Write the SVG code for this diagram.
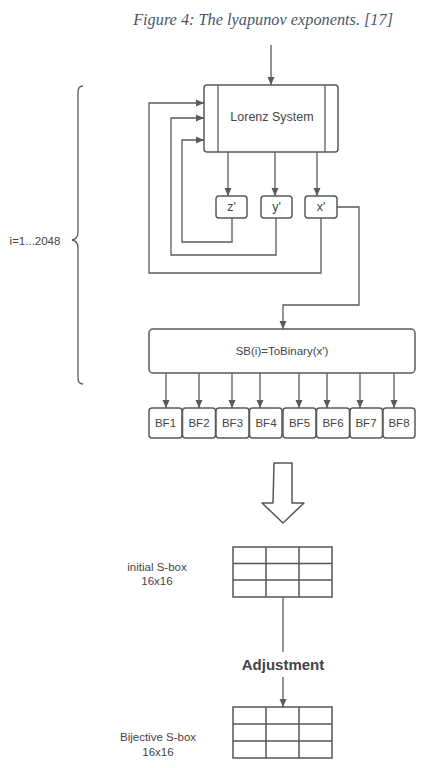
<svg xmlns="http://www.w3.org/2000/svg" width="423" height="768" viewBox="0 0 423 768">
<defs>
<marker id="ah" markerWidth="8" markerHeight="8" viewBox="0 0 8 8" refX="8" refY="4" orient="auto" markerUnits="userSpaceOnUse">
<path d="M0,0.5 L8,4 L0,7.5 Z" fill="#5a5a5a"/>
</marker>
<style>
.ln{fill:none;stroke:#5a5a5a;stroke-width:1.3}
.bx{fill:#fff;stroke:#5a5a5a;stroke-width:1.5}
.t{font-family:"Liberation Sans",Arial,sans-serif;font-size:11.5px;fill:#444;text-anchor:middle}
.g{fill:none;stroke:#555;stroke-width:1.5}
</style>
</defs>
<rect width="423" height="768" fill="#fff"/>
<text x="393" y="25" font-family="Liberation Serif,'Times New Roman',serif" font-style="italic" font-size="16.3" fill="#4a5868" text-anchor="end">Figure 4: The lyapunov exponents. [17]</text>

<g id="connectors">
<line class="ln" x1="271" y1="45" x2="271" y2="85" marker-end="url(#ah)"/>
<line class="ln" x1="228" y1="152" x2="228" y2="196" marker-end="url(#ah)"/>
<line class="ln" x1="275" y1="152" x2="275" y2="196" marker-end="url(#ah)"/>
<line class="ln" x1="317" y1="152" x2="317" y2="196" marker-end="url(#ah)"/>
<polyline class="ln" points="232,218 232,242 182,242 182,140 204,140" marker-end="url(#ah)"/>
<polyline class="ln" points="276,218 276,255 171,255 171,118 204,118" marker-end="url(#ah)"/>
<polyline class="ln" points="321,218 321,273 149,273 149,103 204,103" marker-end="url(#ah)"/>
<polyline class="ln" points="337,207 359,207 359,305 283,305 283,329" marker-end="url(#ah)"/>
<line class="ln" x1="166" y1="373" x2="166" y2="408" marker-end="url(#ah)"/>
<line class="ln" x1="199" y1="373" x2="199" y2="408" marker-end="url(#ah)"/>
<line class="ln" x1="232" y1="373" x2="232" y2="408" marker-end="url(#ah)"/>
<line class="ln" x1="260" y1="373" x2="260" y2="408" marker-end="url(#ah)"/>
<line class="ln" x1="299" y1="373" x2="299" y2="408" marker-end="url(#ah)"/>
<line class="ln" x1="327" y1="373" x2="327" y2="408" marker-end="url(#ah)"/>
<line class="ln" x1="360" y1="373" x2="360" y2="408" marker-end="url(#ah)"/>
<line class="ln" x1="394" y1="373" x2="394" y2="408" marker-end="url(#ah)"/>
<line class="ln" x1="283" y1="597" x2="283" y2="652"/>
<line class="ln" x1="283" y1="677" x2="283" y2="707" marker-end="url(#ah)"/>
</g>

<g id="brace">
<path class="ln" d="M83,86 Q78,86 78,92 L78,232 Q78,239 72,240 Q78,241 78,248 L78,378 Q78,384 83,384"/>
<text class="t" x="35" y="245">i=1...2048</text>
</g>

<g id="lorenz">
<rect class="bx" x="204" y="85" width="134" height="67" rx="3"/>
<line class="ln" x1="218" y1="85" x2="218" y2="152"/>
<line class="ln" x1="325" y1="85" x2="325" y2="152"/>
<text class="t" x="272" y="121" style="font-size:12.5px">Lorenz System</text>
</g>
<g id="zp"><rect class="bx" x="216" y="196" width="31" height="22" rx="3"/><text class="t" x="231.5" y="211" style="font-size:12.5px">z'</text></g>
<g id="yp"><rect class="bx" x="261" y="196" width="31" height="22" rx="3"/><text class="t" x="276.5" y="211" style="font-size:12.5px">y'</text></g>
<g id="xp"><rect class="bx" x="305" y="196" width="32" height="22" rx="3"/><text class="t" x="321" y="211" style="font-size:12.5px">x'</text></g>

<g id="sb">
<rect class="bx" x="149" y="329" width="266" height="44" rx="4"/>
<text class="t" x="282" y="355">SB(i)=ToBinary(x')</text>
</g>

<g id="bf1"><rect class="bx" x="149" y="408" width="33" height="30" rx="3"/><text class="t" x="165.5" y="427">BF1</text></g>
<g id="bf2"><rect class="bx" x="182.5" y="408" width="33" height="30" rx="3"/><text class="t" x="199" y="427">BF2</text></g>
<g id="bf3"><rect class="bx" x="216" y="408" width="33" height="30" rx="3"/><text class="t" x="232.5" y="427">BF3</text></g>
<g id="bf4"><rect class="bx" x="249.5" y="408" width="32.5" height="30" rx="3"/><text class="t" x="266" y="427">BF4</text></g>
<g id="bf5"><rect class="bx" x="283" y="408" width="33" height="30" rx="3"/><text class="t" x="299.5" y="427">BF5</text></g>
<g id="bf6"><rect class="bx" x="316.5" y="408" width="33" height="30" rx="3"/><text class="t" x="333" y="427">BF6</text></g>
<g id="bf7"><rect class="bx" x="350" y="408" width="32.5" height="30" rx="3"/><text class="t" x="366" y="427">BF7</text></g>
<g id="bf8"><rect class="bx" x="383" y="408" width="32" height="30" rx="3"/><text class="t" x="399" y="427">BF8</text></g>

<g id="bigarrow">
<path class="g" stroke-linejoin="round" d="M274,463 L292,463 L292,503 L304,503 L283,523 L262,503 L273,503 Z"/>
</g>

<g id="initial">
<rect class="g" x="233" y="547" width="99" height="50"/>
<line class="g" x1="266" y1="547" x2="266" y2="597"/>
<line class="g" x1="299" y1="547" x2="299" y2="597"/>
<line class="g" x1="233" y1="563.5" x2="332" y2="563.5"/>
<line class="g" x1="233" y1="580" x2="332" y2="580"/>
<text class="t" x="157" y="571">initial S-box</text>
<text class="t" x="157" y="585">16x16</text>
</g>

<g id="adjust">
<text x="283" y="670" font-family="Liberation Sans,Arial,sans-serif" font-size="15" font-weight="bold" fill="#444" text-anchor="middle">Adjustment</text>
</g>

<g id="bijective">
<rect class="g" x="233" y="707" width="99" height="51"/>
<line class="g" x1="266" y1="707" x2="266" y2="758"/>
<line class="g" x1="299" y1="707" x2="299" y2="758"/>
<line class="g" x1="233" y1="724" x2="332" y2="724"/>
<line class="g" x1="233" y1="741" x2="332" y2="741"/>
<text class="t" x="158" y="741">Bijective S-box</text>
<text class="t" x="158" y="756">16x16</text>
</g>
</svg>
